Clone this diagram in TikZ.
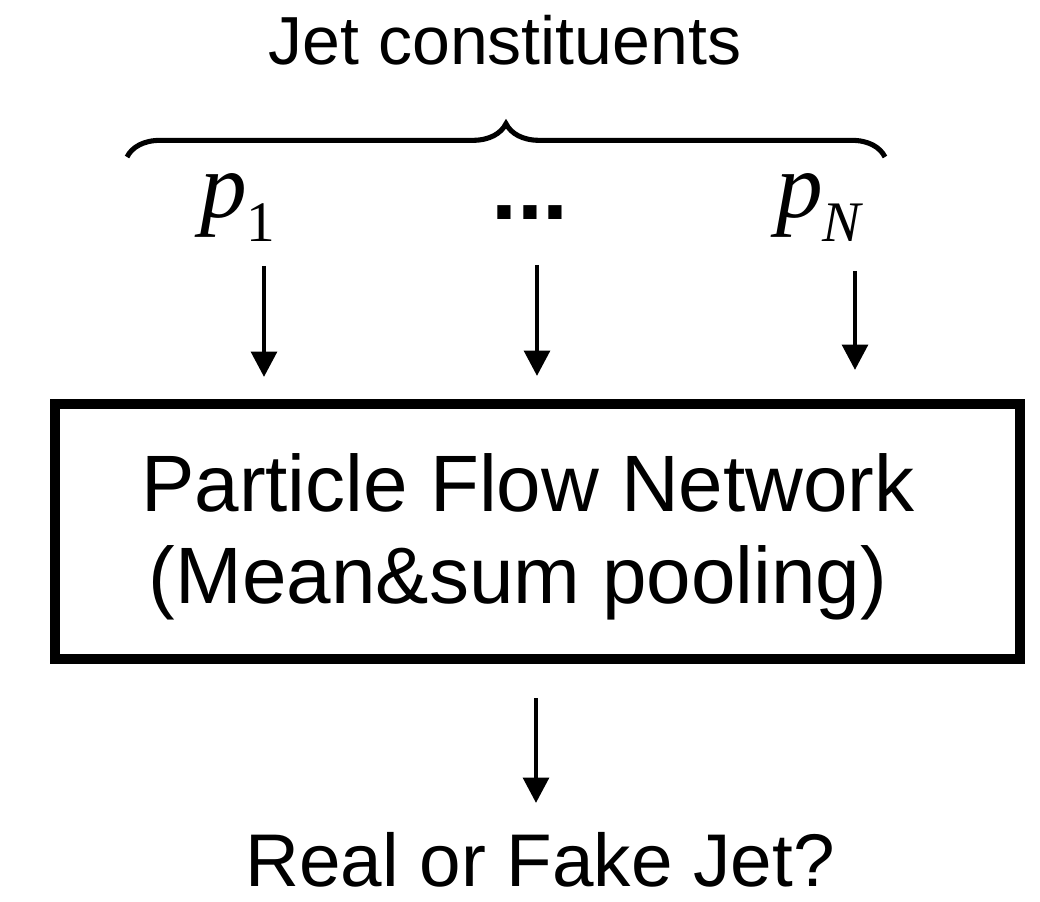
\documentclass[tikz,border=0pt]{standalone}
\usepackage{fontspec}
\setmainfont{Liberation Sans}
\newfontfamily\tmsf{Liberation Serif}
\usetikzlibrary{arrows.meta,decorations.pathreplacing}
\tikzset{
  lbl/.style={anchor=base, inner sep=0pt, font=\fontsize{60}{64}\selectfont},
  toplbl/.style={anchor=base, inner sep=0pt, font=\fontsize{51}{55}\selectfont},
  mathlbl/.style={anchor=base west, inner sep=0pt},
  arr/.style={line width=3.6pt, -{Triangle[length=19pt,width=19pt]}},
  netbox/.style={draw, line width=8pt},
  bracestyle/.style={line width=3.8pt, decorate, decoration={brace, amplitude=25pt}}
}
\newcommand{\pvar}[1]{{\tmsf\fontsize{70}{74}\selectfont\itshape p}\raisebox{-18pt}{\tmsf\fontsize{43}{47}\selectfont #1}}
\begin{document}
\begin{tikzpicture}[x=0.75pt,y=-0.75pt]
\useasboundingbox (0,0) rectangle (1040,902);
\node[toplbl] (title) at (505,65) {Jet constituents};
\coordinate (bl) at (127,157);
\coordinate (br) at (885,157);
\draw[bracestyle] (bl) -- (br);
\node[mathlbl] (p1) at (200,218) {\pvar{1}};
\node[anchor=base, inner sep=0pt, font=\fontsize{70}{74}\selectfont\bfseries] (dots) at (530,220) {...};
\node[mathlbl] (pN) at (776,218) {\pvar{\itshape N}};
\draw[netbox] (55,404) rectangle (1020,659);
\node[lbl] (net1) at (528,512) {Particle Flow Network};
\node[lbl] (net2) at (518,603) {(Mean\&sum pooling)};
\node[lbl, font=\fontsize{56}{60}\selectfont] (out) at (540,886) {Real or Fake Jet?};
\coordinate (a1s) at (264,266); \coordinate (a1e) at (264,377);
\coordinate (a2s) at (537,265); \coordinate (a2e) at (537,376);
\coordinate (a3s) at (855,271); \coordinate (a3e) at (855,370);
\coordinate (a4s) at (536,698); \coordinate (a4e) at (536,803);
\draw[arr] (a1s) -- (a1e);
\draw[arr] (a2s) -- (a2e);
\draw[arr] (a3s) -- (a3e);
\draw[arr] (a4s) -- (a4e);
\end{tikzpicture}
\end{document}
